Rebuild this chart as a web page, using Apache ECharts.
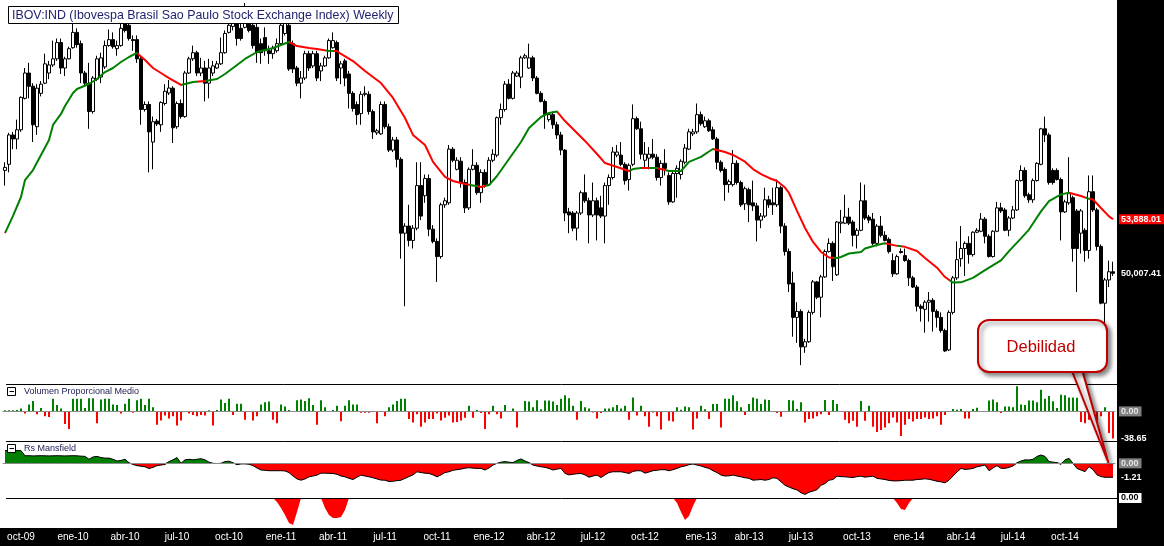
<!DOCTYPE html>
<html><head><meta charset="utf-8">
<script src="https://cdn.jsdelivr.net/npm/echarts@6/dist/echarts.min.js"></script>
<style>html,body{margin:0;padding:0;background:#fff;}#c{width:1164px;height:546px;}</style>
</head><body><div id="c"></div>
<script>
// ---------- DATA ----------
const firstWeek = '2009-09-07';
const tickMonths = ['2009-10','2010-01','2010-04','2010-07','2010-10','2011-01','2011-04','2011-07','2011-10','2012-01','2012-04','2012-07','2012-10','2013-01','2013-04','2013-07','2013-10','2014-01','2014-04','2014-07','2014-10'];
const tickLabels = ['oct-09','ene-10','abr-10','jul-10','oct-10','ene-11','abr-11','jul-11','oct-11','ene-12','abr-12','jul-12','oct-12','ene-13','abr-13','jul-13','oct-13','ene-14','abr-14','jul-14','oct-14'];
// weekly [open, close, low, high]
const ohlc = [
[57400,57620,56310,57990],[57840,59950,57260,60100],[59950,59660,58930,60170],[59660,60320,58930,61050],[60320,62650,60170,62720],
[62580,64400,62500,64760],[64400,63450,62580,65130],[63450,60680,59440,63670],[60540,63310,59950,63600],[62940,63600,62720,63820],
[63670,65060,63600,65790],[64400,64980,63960,65270],[64980,65420,64840,66730],[65420,66590,65270,66880],[66590,64760,64330,66880],
[64760,65420,64180,65570],[65420,66150,65380,66290],[66220,67320,66150,67970],[67320,66440,66220,67610],[66510,64400,63670,66730],
[64400,63670,63450,64550],[63670,61630,60390,65130],[61630,64040,61480,64180],[63960,65420,63820,65640],[64110,65490,63670,65860],
[64840,66370,64690,66730],[66370,66800,66290,67530],[66800,66290,66150,67320],[66150,66370,65640,66730],[66370,67610,66290,68190],
[67970,67460,67320,68550],[67830,66880,66730,68190],[66800,66730,66000,67100],[66800,65420,65130,67100],[65420,61780,60680,65640],
[61780,62140,61630,62360],[62140,60170,57260,62360],[59440,60900,57480,61270],[60950,60740,60590,61100],[60680,62290,60170,62360],
[62210,63090,62070,63600],[62960,63320,62820,63900],[63310,60460,59370,63450],[60540,62210,60390,62360],[62210,61270,61120,62500],
[61270,64400,61190,64550],[64400,65420,64330,65570],[65420,65860,65270,66370],[65860,64400,64180,66000],[64400,64760,64180,65490],
[64760,63670,62360,65270],[63670,64760,62580,65420],[64400,64910,64180,65270],[64760,65060,64690,65270],[65060,65860,64980,66950],
[65860,67240,65790,67460],[67320,67830,67240,68190],[67750,67970,67460,68770],[67970,66880,66370,68550],[67610,66880,66730,68040],
[67680,68040,67610,69430],[67970,67460,67320,68920],[67830,66370,66150,68340],[67680,65860,65130,68190],[66510,65860,65060,66880],
[66950,66000,65640,67680],[66000,65790,65060,66370],[65790,66150,65420,66370],[66000,66510,65860,66880],[66510,67830,66370,68190],
[67240,67970,67100,68550],[67830,64690,64550,68040],[66510,64690,64400,66730],[64760,63670,63450,64910],[63670,64040,62580,64550],
[64040,65790,63890,66000],[65790,64760,64550,66000],[64910,65790,64760,66000],[65790,64040,63820,66000],[64550,64910,63820,65130],
[64910,65490,64840,65640],[65490,66730,65420,66880],[66220,66730,66150,67320],[66590,64040,63820,66730],[64760,65060,63600,65270],
[65270,64040,63450,65420],[64330,62940,61850,64550],[62940,61850,61630,63090],[62140,61410,60680,62360],[61480,62870,60680,63090],
[62870,62940,62720,63450],[62870,61630,61410,63090],[61630,60170,59660,61780],[60100,60250,59950,60390],[60030,62140,59950,62360],
[62140,60540,60390,62360],[60540,58860,58720,60760],[58860,59590,58720,59810],[59590,58200,57620,59810],[58200,52890,51060,58350],
[52890,53400,47640,53610],[53400,52370,51940,54930],[52370,53250,51790,53470],[53250,56310,53100,57990],[56310,54120,53830,57990],
[55580,56820,55070,57110],[56820,53180,52670,57110],[53180,52300,52160,53470],[52300,51210,49390,52520],[51210,54930,51060,55070],
[54930,55220,54710,55440],[55070,58930,54930,59230],[58930,58130,57990,59080],[57480,58130,57400,58350],[58060,56530,56160,58350],
[56530,54710,54340,56750],[54710,57480,54560,57620],[57480,57770,57400,58930],[57770,55800,55650,57990],[55800,57260,55070,57480],
[57260,56380,56160,57480],[56380,58130,56310,58350],[58130,58570,57990,58930],[58500,61190,58350,61270],[61190,61780,60680,62210],
[61780,63600,61630,63820],[63600,62580,62500,63960],[62580,64400,62500,64550],[64180,64400,64110,64550],[64110,65490,63310,65640],
[65490,65640,65420,65790],[64760,65490,64690,66510],[65490,64040,63820,65640],[64040,62940,62870,64180],[62940,62360,62290,63090],
[62360,61410,60390,62500],[61050,61410,60900,61480],[61410,60680,60390,61630],[60680,59950,59660,60900],[59950,58860,58500,60170],
[58860,54340,53760,58930],[54420,54200,52890,54710],[54340,53250,53030,54490],[53250,54340,52370,54490],[54340,55800,54200,55950],
[55800,55220,55070,57110],[55220,54200,52160,55440],[54200,55220,54050,56530],[55220,54200,52370,55440],[54710,54120,53980,55580],
[54120,56310,52160,56530],[56310,56890,54930,57110],[56890,58720,56750,59080],[58500,58720,58350,59230],[58500,57840,57700,59440],
[57840,56670,56380,57990],[56750,57770,55950,57910],[57840,61120,57700,62140],[61120,60390,60320,61270],[60390,58570,58200,60900],
[58130,58570,57550,59440],[58280,58570,57480,59080],[58570,58350,58200,59660],[58350,56890,56670,58570],[56890,57910,56310,58130],
[57910,57550,57040,58930],[57040,55140,54930,57260],[55140,57180,55070,57400],[57180,57550,55440,57770],[57110,58060,56750,58200],
[57990,59010,57840,59300],[58930,60170,58860,60390],[60030,60170,59880,60390],[60170,61410,60030,62210],[61410,60760,60610,61630],
[60540,60970,60460,61270],[60970,60250,60170,61120],[60320,59660,59590,60540],[59660,57990,57480,59810],[57990,57400,57260,58130],
[57480,56380,55220,57620],[56380,56600,55800,56750],[56380,57910,56240,58860],[57910,56530,56380,58130],[56530,54930,54780,56670],
[55000,56090,54560,56240],[56020,54930,53690,56160],[55070,54850,54490,56670],[54850,53830,52300,55070],[53830,54120,53250,54340],
[54120,55290,53980,56160],[55290,54930,54710,55580],[55070,54930,54200,56160],[54930,56160,54780,56750],[56160,53400,52890,56310],
[53400,51570,51280,53610],[51570,49240,48660,51790],[49310,46840,45450,50120],[46840,47270,45010,47930],[47270,44720,43410,47420],
[44720,45090,44290,45300],[45090,47200,45010,47350],[47200,49390,47050,49530],[49390,48290,48150,49460],[48290,49750,46840,49900],
[49750,51570,49680,51720],[51570,52160,51500,52520],[52160,50480,49460,52300],[49900,53690,49820,53760],[53610,53690,52890,54560],
[53610,54050,53540,55650],[54050,53610,53470,54710],[53690,52740,51940,53830],[52740,53100,51790,53250],[53100,55220,53030,56530],
[55220,53980,53830,56380],[54050,53830,53610,54200],[53900,52160,52010,54340],[52160,53400,51940,53540],[53400,52740,52590,54120],
[52740,52370,52300,53030],[52450,51570,51430,52590],[50920,49970,49750,51430],[49970,51210,49900,51350],[51570,51500,51430,51790],
[51280,50920,50840,51790],[50920,49680,49100,51060],[49680,49020,48950,49820],[49020,47640,47270,49170],[47640,47490,46540,47780],
[47420,47930,45740,48070],[47930,48070,46540,48660],[48070,47270,45820,48220],[47270,46840,46110,47420],[46840,45890,45740,47200],
[45890,44430,44360,46030],[44500,47200,44430,47350],[47200,49680,47050,49820],[49680,50990,49530,52300],[51060,51790,50480,53400],
[51790,52160,49820,52300],[52160,51350,50700,52670],[51350,52960,51210,53030],[52960,53100,52890,53250],[53030,53900,52960,54340],
[53900,52670,52160,54050],[52670,51210,51140,52810],[51210,53030,51140,53100],[53030,54710,52960,55140],[54710,54490,54340,55070],
[54560,53100,53030,54710],[53100,53980,52670,54120],[53980,54560,53900,54850],[54560,56670,54490,56750],[56670,57400,56600,57770],
[57400,55580,55440,57620],[55650,55290,55070,55800],[55290,56670,55070,56820],[56670,57910,56600,57990],[57840,60390,57770,60460],
[60390,59950,59440,61270],[59950,56530,56380,60100],[57400,56530,56380,57550],[57400,56750,56670,57550],[56750,54420,52370,56890],
[54420,55140,54340,55290],[55070,55730,54930,58350],[55440,51790,50840,55580],[54490,51790,48660,54630],[52890,54490,51430,54630],
[53100,51650,50840,53250],[51650,55870,51060,57040],[55870,54560,54420,57040],[54560,51940,51650,54710],[51940,47860,47780,52080],
[47860,49530,45090,49680],[49530,50120,49020,50920],[50120,50007.41,49820,50840]
];
// moving average: [week index, value]
const maPoints = [
[0,52900],[2,54130],[4,55490],[5,56710],[7,57430],[9,58510],[11,59590],[12,60670],[14,61460],[15,62030],[17,62960],[18,63250],
[21,63610],[23,63970],[25,64470],[27,64760],[29,65190],[31,65550],[33,65840],[35,65340],[37,64760],[39,64400],[41,64040],[44,63540],
[47,63750],[50,63830],[53,63970],[55,64330],[57,64760],[60,65410],[63,65910],[67,66200],[71,66630],[73,66340],[76,66200],[78,66130],
[81,65980],[83,65980],[84,65770],[87,65260],[90,64550],[94,63680],[97,62610],[100,61170],[102,59950],[105,59230],[107,58010],[110,56930],
[112,56640],[115,56430],[119,56210],[121,56350],[123,57000],[126,58220],[129,59440],[131,60450],[134,61240],[136,61530],[138,61630],
[140,60950],[143,60090],[145,59520],[148,58580],[150,57930],[153,57650],[156,57360],[157,57500],[159,57580],[163,57580],[166,57360],
[169,57360],[171,58010],[174,58370],[176,58760],[177,58940],[180,58720],[182,58510],[185,58030],[187,57500],[189,57140],[191,56860],
[193,56640],[195,56170],[196,55780],[198,54490],[200,53260],[202,52260],[204,51540],[206,51140],[208,51110],[209,51180],[211,51430],
[214,51540],[215,51790],[218,52040],[220,52160],[223,51980],[225,51910],[228,51610],[230,51110],[233,50410],[235,49740],[237,49340],
[239,49360],[242,49680],[245,50230],[249,50940],[251,51600],[254,52520],[256,53150],[259,54460],[261,55200],[264,55680],[266,55800],
[269,55560],[271,55360],[272,55310],[274,54700],[276,54100],[277,53888.01]
];
// MA colour: price above (up) or below (down), by week index range
const maTrend = [
[0,33,'up'],[33,44,'down'],[44,48,'up'],[48,50,'down'],[50,71,'up'],[71,80,'down'],[80,82,'up'],[82,116,'down'],
[116,118,'up'],[118,120,'down'],[120,138,'up'],[138,156,'down'],[156,159,'up'],[159,161,'down'],[161,163,'up'],[163,165,'down'],
[165,177,'up'],[177,207,'down'],[207,220,'up'],[220,223,'down'],[223,224,'up'],[224,236,'down'],[236,266,'up'],[266,270,'down'],
[270,271,'up'],[271,278,'down']
];
const volumeProp = [
1.5,1.5,1.5,2,4,-3,10,15,-4,5,
-7,-8,18,9,4,-18,-25,18,18,18,
5,19,19,-17,17,18,18,10,9,-3,
11,18,-2,16,18,9,18,6,-19,-13,
-6,-10,-7,-20,-13,0,-3,-5,-7,-5,
-6,1.5,-20,2,17,12,18,-5,11,11,
-12,0,-13,-7,10,13,14,-12,-17,10,
7,2,0,16,17,15,19,9,-19,16,
6,0,2,8,-14,8,16,10,10,-2,
-2,-2,0,-17,0,-7,6,10,15,18,
18,-11,-16,-4,-22,-16,-11,-11,-3,-13,
-9,-6,-16,-15,-13,-9,8,-9,2,-2.4,
-25,-4,8,-4,-10,9,0,4,-23,0,
15,14,6,16,3,15.5,15.5,14,9,18,
23,19,8,-12,15,6,4,-1.5,-10,-2.4,
4,4,6,9,4,8,-12,20,-6,8,
-7,-22,-1.5,-7,-26,0,-13.5,-14.5,6,2.4,
7,6,-26,-10,8,3,-11,10.6,10.6,-23,
18,18,23,14.5,6,-5,10.6,20,18,10.6,
17,16.5,0,-2.4,-7.7,0,16.5,15.5,3.4,13,
-16,-11,-10,-7,-4,16.5,-5,16.5,10.6,0,
-12,-17,-13.5,-22,15,-13.5,8,-22,-29.5,-26.6,
-23,-17,-8.7,-16,-35,-19,-11,-14.5,-11,-11,
-8.7,-11,-10,-7,-19,-5,0,3.4,2.4,3.4,
-10,-10,3.4,5.3,0,0,15.5,17,13,-2.4,
7,7,6,36,10,9,15.5,15.5,13,31,
18,22,14.5,5,24,23,20,20,19.5,-15,
-17,-12,-9,-14,-7,6,-31,-38.65
];
const rsMansfield = [
1.1,1.1,1.1,1.1,1.1,0.65,0.66,0.64,0.65,0.66,
0.65,0.64,0.65,0.66,0.65,0.64,0.65,0.66,0.65,0.62,
0.6,0.35,0.55,0.6,0.5,0.45,0.45,0.35,0.2,0.25,
0.35,0.05,-0.1,-0.2,-0.25,-0.3,-0.45,-0.35,-0.2,-0.15,
-0.1,0.15,0.3,0.5,0,0.3,0.35,0.3,0.35,0.4,
0.3,0.1,0,-0.02,0,0.15,0.18,0.05,-0.12,-0.05,
-0.05,-0.08,-0.2,-0.4,-0.58,-0.6,-0.64,-0.64,-0.64,-0.64,
-0.66,-0.8,-1.1,-1.35,-1.46,-1.35,-1.17,-1.1,-1.02,-0.85,
-0.85,-0.87,-0.88,-0.95,-1.1,-1.17,-1.3,-1.4,-1.2,-1.02,
-1.1,-1.17,-1.25,-1.35,-1.45,-1.46,-1.58,-1.55,-1.5,-1.46,
-1.3,-1.15,-1,-0.73,-0.8,-0.85,-0.88,-1,-1.17,-1,
-0.8,-0.73,-0.6,-0.55,-0.5,-0.42,-0.38,-0.42,-0.44,-0.44,
-0.58,-0.4,-0.15,0,0.1,0.15,0.1,0.06,0.25,0.38,
0.2,0.06,-0.15,-0.23,-0.3,-0.35,-0.44,-0.58,-0.5,-0.44,
-0.88,-1,-0.95,-0.9,-0.88,-1,-1.2,-1.1,-1.02,-1.23,
-1,-0.8,-0.73,-0.73,-0.73,-0.8,-0.88,-0.7,-0.64,-0.65,
-0.85,-0.75,-0.64,-0.6,-0.55,-0.55,-0.64,-0.55,-0.44,-0.3,
-0.23,-0.12,-0.06,-0.15,-0.23,-0.35,-0.44,-0.64,-0.8,-1.02,
-1.1,-1.08,-1.02,-1.1,-1.17,-1.25,-1.3,-1.46,-1.43,-1.4,
-1.46,-1.4,-1.25,-1.3,-1.6,-1.9,-2.05,-2.2,-2.3,-2.55,
-2.69,-2.5,-2.4,-2.28,-1.9,-1.75,-1.46,-1.4,-1.11,-1.15,
-1.17,-1.2,-1.23,-1.15,-1.11,-1.2,-1.15,-1.11,-1.3,-1.35,
-1.4,-1.48,-1.52,-1.52,-1.5,-1.46,-1.46,-1.46,-1.4,-1.38,
-1.34,-1.38,-1.46,-1.55,-1.6,-1.69,-1.46,-1.1,-0.75,-0.44,
-0.53,-0.5,-0.44,-0.3,-0.23,-0.15,-0.64,-0.4,-0.2,-0.43,
-0.44,-0.35,-0.23,0.05,0.2,0.3,0.29,0.35,0.6,0.72,
0.6,0.15,0.1,0.06,-0.09,0.3,0.43,0,-0.45,-0.58,
-0.72,-0.29,-0.55,-1,-1.15,-1.21,-1.21,-1.21
];
// third panel: weeks where the indicator is not zero [week index, value]
const weaknessSpikes = [
[68,-4],[69,-10],[70,-17],[71,-25],[72,-27],[73,-14],
[80,-10],[81,-17],[82,-20],[83,-20],[84,-19],[85,-12],
[168,-5],[169,-14],[170,-22],[171,-18],[172,-8],
[223,-5],[224,-11],[225,-12],[226,-5]
];

// ---------- BUILD ----------
const N = ohlc.length;
const weeks = [];
const t0 = Date.parse(firstWeek + 'T00:00:00Z');
for (let i = 0; i < N; i++) weeks.push(new Date(t0 + i * 7 * 86400000).toISOString().slice(0, 10));
const tickAt = {};
tickMonths.forEach((m, k) => {
  const idx = weeks.findIndex(w => w.slice(0, 7) === m);
  if (idx >= 0) tickAt[idx] = tickLabels[k];
});
const signal = weeks.map(() => 0);
weaknessSpikes.forEach(([i, v]) => { signal[i] = v; });
// split RS for the two fill colours (above / below zero)
const rsAbove = rsMansfield.map(v => v > 0 ? v : 0);
const rsBelow = rsMansfield.map(v => v < 0 ? v : 0);

const GREEN = '#008000', RED = '#ff0000';
const fmt = v => v.toLocaleString('en-US', {minimumFractionDigits: 2, maximumFractionDigits: 2});
const lastClose = ohlc[N - 1][1];
const lastMA = maPoints[maPoints.length - 1][1];
const lastVol = volumeProp[N - 1];
const lastRS = rsMansfield[N - 1];

const L = 3, W = 1112;
const grids = [
  {left: L, width: W, top: 0, height: 383},
  {left: L, width: W, top: 384, height: 57},
  {left: L, width: W, top: 441, height: 57},
  {left: L, width: W, top: 498, height: 30}
];
function xa(g, extra) {
  return Object.assign({type: 'category', gridIndex: g, data: weeks, boundaryGap: true,
    axisLine: {show: false}, axisTick: {show: false}, axisLabel: {show: false}, splitLine: {show: false}}, extra || {});
}
const zeroLine = {show: true, onZero: true, lineStyle: {color: '#8c8c8c', width: 1}};

const option = {
  animation: false,
  backgroundColor: '#fff',
  grid: grids,
  xAxis: [
    xa(0),
    xa(1, {axisLine: zeroLine, z: 3}),
    xa(2, {axisLine: zeroLine, z: 5}),
    xa(3, {z: 10, axisLabel: {show: true, interval: (i) => tickAt[i] !== undefined, formatter: (v, i) => tickAt[i] || '',
      color: '#fff', fontFamily: 'Liberation Sans', fontSize: 10, margin: 4}})
  ],
  yAxis: [
    {type: 'value', gridIndex: 0, min: 42125, max: 69647, show: false},
    {type: 'value', gridIndex: 1, min: -42.3, max: 39.2, show: false},
    {type: 'value', gridIndex: 2, min: -3.0, max: 1.93, show: false},
    {type: 'value', gridIndex: 3, min: -30, max: 0, show: false}
  ],
  visualMap: [
    {show: false, type: 'piecewise', seriesIndex: 1, dimension: 0,
      pieces: maTrend.map(([a, b, t]) => ({gte: a, lt: b, color: t === 'up' ? GREEN : RED})), outOfRange: {color: RED}}
  ],
  series: [
    {type: 'candlestick', xAxisIndex: 0, yAxisIndex: 0, data: ohlc, barWidth: 3, clip: false,
      itemStyle: {color: '#fff', color0: '#000', borderColor: '#000', borderColor0: '#000', borderWidth: 1}},
    {type: 'line', xAxisIndex: 0, yAxisIndex: 0, data: maPoints, showSymbol: false, symbol: 'none', z: 4,
      lineStyle: {width: 2}, clip: false},
    {type: 'bar', xAxisIndex: 1, yAxisIndex: 1, data: volumeProp, barWidth: 2, clip: false,
      itemStyle: {color: p => p.value >= 0 ? GREEN : RED}},
    {type: 'line', xAxisIndex: 2, yAxisIndex: 2, data: rsAbove, symbol: 'none', showSymbol: false,
      lineStyle: {width: 0, color: GREEN}, itemStyle: {color: GREEN}, areaStyle: {color: GREEN, opacity: 1}, clip: false},
    {type: 'line', xAxisIndex: 2, yAxisIndex: 2, data: rsBelow, symbol: 'none', showSymbol: false,
      lineStyle: {width: 0, color: RED}, itemStyle: {color: RED}, areaStyle: {color: RED, opacity: 1}, clip: false},
    {type: 'line', xAxisIndex: 2, yAxisIndex: 2, data: rsMansfield, symbol: 'none', showSymbol: false, z: 4,
      lineStyle: {width: 1, color: '#000'}, itemStyle: {color: '#000'}, clip: false},
    {type: 'line', xAxisIndex: 3, yAxisIndex: 3, data: signal, symbol: 'none', showSymbol: false,
      lineStyle: {width: 0, color: RED}, itemStyle: {color: RED}, areaStyle: {color: RED, opacity: 1}, clip: false}
  ],
  graphic: [
    {id: 'stripR', type: 'rect', z: 1, silent: true, shape: {x: 1117, y: 0, width: 47, height: 546}, style: {fill: '#000'}},
    {id: 'stripB', type: 'rect', z: 1, silent: true, shape: {x: 0, y: 528, width: 1164, height: 18}, style: {fill: '#000'}},
    {id: 'sep1', type: 'line', z: 50, silent: true, shape: {x1: 6, y1: 384.5, x2: 1117, y2: 384.5}, style: {stroke: '#000', lineWidth: 1}},
    {id: 'sep2', type: 'line', z: 50, silent: true, shape: {x1: 6, y1: 441.5, x2: 1117, y2: 441.5}, style: {stroke: '#000', lineWidth: 1}},
    {id: 'sep3', type: 'line', z: 50, silent: true, shape: {x1: 6, y1: 498.5, x2: 1117, y2: 498.5}, style: {stroke: '#000', lineWidth: 1}},
    // title
    {id: 'tbox', type: 'rect', z: 100, silent: true, shape: {x: 8.5, y: 6.5, width: 390, height: 17}, style: {fill: '#fff', stroke: '#000', lineWidth: 1}},
    {id: 'ttxt', type: 'text', z: 101, silent: true, x: 12, y: 15.5, style: {text: 'IBOV:IND (Ibovespa Brasil Sao Paulo Stock Exchange Index) Weekly',
      fill: '#1e1e6e', font: '12.4px "Liberation Sans"', verticalAlign: 'middle'}},
    // panel captions
    {id: 'ic1', type: 'rect', z: 100, silent: true, shape: {x: 7.5, y: 387.5, width: 8, height: 8}, style: {fill: '#fff', stroke: '#000', lineWidth: 1}},
    {id: 'ic1m', type: 'line', z: 101, silent: true, shape: {x1: 9.5, y1: 391.5, x2: 14, y2: 391.5}, style: {stroke: '#000', lineWidth: 1}},
    {id: 'cap1', type: 'text', z: 101, silent: true, x: 24, y: 392, style: {text: 'Volumen Proporcional Medio', fill: '#1a1a50', font: '9px "Liberation Sans"', verticalAlign: 'middle'}},
    {id: 'ic2', type: 'rect', z: 100, silent: true, shape: {x: 7.5, y: 444.5, width: 8, height: 8}, style: {fill: '#fff', stroke: '#000', lineWidth: 1}},
    {id: 'ic2m', type: 'line', z: 101, silent: true, shape: {x1: 9.5, y1: 448.5, x2: 14, y2: 448.5}, style: {stroke: '#000', lineWidth: 1}},
    {id: 'cap2', type: 'text', z: 101, silent: true, x: 24, y: 449, style: {text: 'Rs Mansfield', fill: '#1a1a50', font: '9px "Liberation Sans"', verticalAlign: 'middle'}},
    // callout
    {id: 'tail', type: 'polygon', z: 100, silent: true, shape: {points: [[1070, 366], [1108.5, 463], [1081, 366]]},
      style: {fill: '#fff', stroke: '#c00000', lineWidth: 2, shadowBlur: 4, shadowColor: 'rgba(0,0,0,0.45)', shadowOffsetX: 3, shadowOffsetY: 3}},
    {id: 'cbox', type: 'rect', z: 101, silent: true, shape: {x: 978, y: 320, width: 129, height: 52, r: 11},
      style: {fill: '#fff', stroke: '#c00000', lineWidth: 2, shadowBlur: 4, shadowColor: 'rgba(0,0,0,0.45)', shadowOffsetX: 3, shadowOffsetY: 3}},
    {id: 'ctxt', type: 'text', z: 102, silent: true, x: 1041, y: 347, style: {text: 'Debilidad', fill: '#c00000', font: '16.5px "Liberation Sans"', align: 'center', verticalAlign: 'middle'}}
  ]
};
const chart = echarts.init(document.getElementById('c'));
chart.setOption(option);

// right-hand value tags, placed through each panel's own value axis
const FONT = 'bold 9px "Liberation Sans"';
const py = (ax, v) => chart.convertToPixel({yAxisIndex: ax}, v);
function valTag(id, ax, v, text, extra) {
  return Object.assign({id: id, type: 'text', z: 200, silent: true, x: 1119, y: py(ax, v),
    style: Object.assign({text: text, fill: '#fff', font: FONT, verticalAlign: 'middle', padding: [1, 2, 0, 2]}, extra || {})});
}
const gray = {fill: '#e6e6e6', backgroundColor: '#808080', padding: [1, 3, 0, 2]};
chart.setOption({graphic: [
  valTag('vClose', 0, lastClose, fmt(lastClose)),
  valTag('vMA', 0, lastMA, fmt(lastMA), {backgroundColor: RED, padding: [1, 4, 0, 2]}),
  valTag('vVol0', 1, 0, '0.00', gray),
  valTag('vVol', 1, lastVol, fmt(lastVol)),
  valTag('vRS0', 2, 0, '0.00', gray),
  valTag('vRS', 2, lastRS, fmt(lastRS)),
  valTag('vSig0', 3, 0, '0.00', {fill: '#000', backgroundColor: '#fff', padding: [1, 3, 0, 2]})
]});
</script></body></html>
